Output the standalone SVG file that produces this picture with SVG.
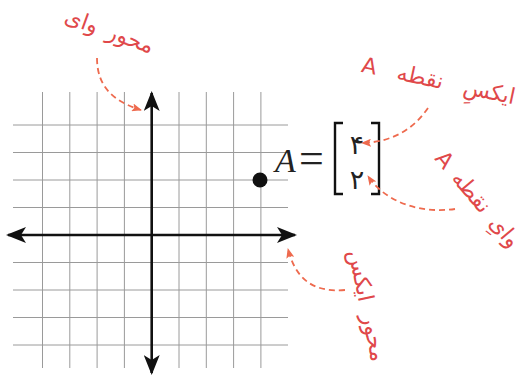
<svg xmlns="http://www.w3.org/2000/svg" width="530" height="378" viewBox="0 0 530 378">
<style>
.grid line{stroke:#9a9a9a;stroke-width:1}
.axis{stroke:#111;stroke-width:2.6;fill:none}
.note{fill:#e0484a;font-family:"DejaVu Sans",sans-serif;font-size:22px}
.dash{stroke:#ee6a4e;stroke-width:1.8;stroke-dasharray:6 4;fill:none}
.br{stroke:#111;stroke-width:2.4;fill:none}
</style>
<defs>
<marker id="ah" viewBox="0 0 20 16" refX="18" refY="8" markerWidth="20" markerHeight="16" markerUnits="userSpaceOnUse" orient="auto">
<path d="M0,0 L20,8 L0,16 L5,8 Z" fill="#111"/>
</marker>
<marker id="rh" viewBox="0 0 10 8" refX="9" refY="4" markerWidth="10" markerHeight="8" markerUnits="userSpaceOnUse" orient="auto">
<path d="M0,0 L10,4 L0,8 L2,4 Z" fill="#ee6a4e"/>
</marker>
</defs>
<rect width="530" height="378" fill="#fff"/>
<g id="grid" class="grid">
<line x1="42.5" y1="92" x2="42.5" y2="368"/>
<line x1="69.8" y1="92" x2="69.8" y2="368"/>
<line x1="97.1" y1="92" x2="97.1" y2="368"/>
<line x1="124.4" y1="92" x2="124.4" y2="368"/>
<line x1="179" y1="92" x2="179" y2="368"/>
<line x1="206.3" y1="92" x2="206.3" y2="368"/>
<line x1="233.6" y1="92" x2="233.6" y2="368"/>
<line x1="260.9" y1="92" x2="260.9" y2="368"/>
<line x1="13" y1="125" x2="288" y2="125"/>
<line x1="13" y1="152.5" x2="288" y2="152.5"/>
<line x1="13" y1="180" x2="288" y2="180"/>
<line x1="13" y1="207.5" x2="288" y2="207.5"/>
<line x1="13" y1="262.5" x2="288" y2="262.5"/>
<line x1="13" y1="290" x2="288" y2="290"/>
<line x1="13" y1="317.5" x2="288" y2="317.5"/>
<line x1="13" y1="345" x2="288" y2="345"/>
</g>
<g id="axes">
<line class="axis" x1="151.7" y1="235" x2="151.7" y2="93" marker-end="url(#ah)"/>
<line class="axis" x1="151.7" y1="235" x2="151.7" y2="373" marker-end="url(#ah)"/>
<line class="axis" x1="151.7" y1="235" x2="295" y2="235" marker-end="url(#ah)"/>
<line class="axis" x1="151.7" y1="235" x2="8" y2="235" marker-end="url(#ah)"/>
</g>
<g id="pointA">
<circle cx="260" cy="180" r="7.5" fill="#111"/>
</g>
<g id="matrix">
<text x="275" y="172" font-family="Liberation Serif, serif" font-style="italic" font-size="34" fill="#222">A</text>
<text x="299" y="173" font-family="Liberation Serif, serif" font-size="44" fill="#222">=</text>
<path class="br" d="M343,123 L335,123 L335,194 L343,194"/>
<path class="br" d="M371,123 L379,123 L379,194 L371,194"/>
<text x="357" y="154" text-anchor="middle" font-family="DejaVu Sans, sans-serif" font-size="27" fill="#222">۴</text>
<text x="357" y="189" text-anchor="middle" font-family="DejaVu Sans, sans-serif" font-size="27" fill="#222">۲</text>
</g>
<g id="label-y-axis">
<text class="note" transform="translate(107,38) rotate(20)" text-anchor="middle" direction="rtl" word-spacing="4">محور وای</text>
</g>
<g id="label-x-of-A">
<text class="note" transform="translate(437,88) rotate(12)" text-anchor="middle" direction="rtl" font-size="25" word-spacing="14">ایکسِ نقطه A</text>
</g>
<g id="label-y-of-A">
<text class="note" transform="translate(472,204) rotate(50)" text-anchor="middle" direction="rtl" font-size="23" word-spacing="4">وایِ نقطه A</text>
</g>
<g id="label-x-axis">
<text class="note" transform="translate(360,307) rotate(78)" text-anchor="middle" direction="rtl" font-size="24" word-spacing="6">محور ایکس</text>
</g>
<g id="connectors">
<path class="dash" d="M97,58 C97,88 115,102 141,110" marker-end="url(#rh)"/>
<path class="dash" d="M428,108 C415,127 395,142 362,143" marker-end="url(#rh)"/>
<path class="dash" d="M455,209 C420,214 385,202 368,176" marker-end="url(#rh)"/>
<path class="dash" d="M345,290 C310,293 295,276 288,249" marker-end="url(#rh)"/>
</g>
</svg>
